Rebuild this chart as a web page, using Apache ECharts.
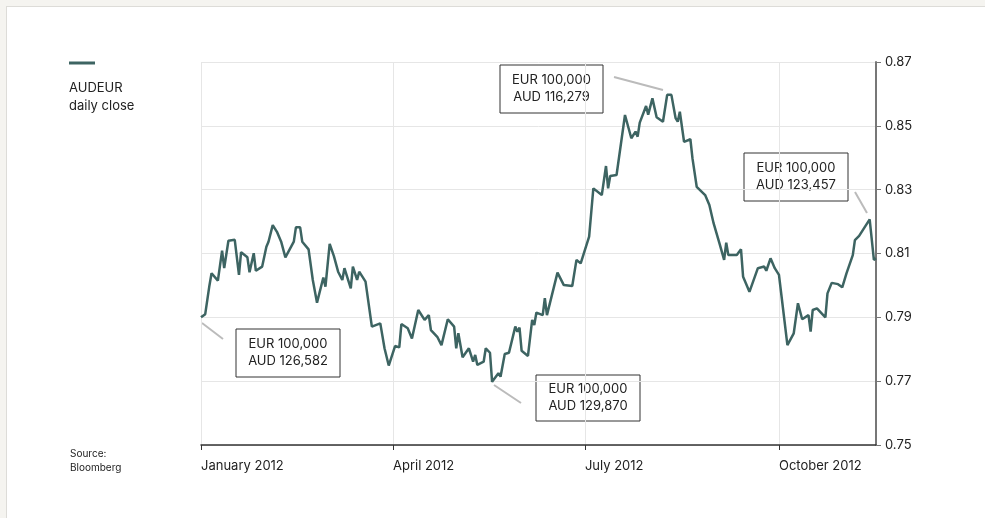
<!DOCTYPE html>
<html>
<head>
<meta charset="utf-8">
<script src="https://cdn.jsdelivr.net/npm/echarts@6/dist/echarts.min.js"></script>
<style>
  html, body { margin: 0; padding: 0; background: #f5f4f0; overflow: hidden; }
  .card { position: absolute; left: 6px; top: 6px; right: -10px; bottom: -10px; background: #fff; border: 1px solid #dddcd8; }
  #chart { position: absolute; left: 0; top: 0; width: 985px; height: 518px; }
</style>
</head>
<body>
<div class="card"></div>
<div id="chart"></div>
<script>
// AUDEUR daily close, 2012
const closeDates = [
  "2012-01-01", "2012-01-03", "2012-01-05", "2012-01-06", "2012-01-09", "2012-01-11", "2012-01-12", "2012-01-14",
  "2012-01-17", "2012-01-19", "2012-01-20", "2012-01-23", "2012-01-24", "2012-01-26", "2012-01-27", "2012-01-30",
  "2012-02-01", "2012-02-02", "2012-02-04", "2012-02-06", "2012-02-08", "2012-02-10", "2012-02-14", "2012-02-15",
  "2012-02-17", "2012-02-18", "2012-02-21", "2012-02-23", "2012-02-25", "2012-02-28", "2012-02-29", "2012-03-02",
  "2012-03-04", "2012-03-06", "2012-03-08", "2012-03-09", "2012-03-12", "2012-03-13", "2012-03-15", "2012-03-16",
  "2012-03-19", "2012-03-21", "2012-03-22", "2012-03-26", "2012-03-28", "2012-03-30", "2012-04-02", "2012-04-04",
  "2012-04-05", "2012-04-08", "2012-04-10", "2012-04-13", "2012-04-16", "2012-04-18", "2012-04-19", "2012-04-22",
  "2012-04-24", "2012-04-27", "2012-04-30", "2012-05-01", "2012-05-02", "2012-05-04", "2012-05-07", "2012-05-09",
  "2012-05-10", "2012-05-11", "2012-05-14", "2012-05-15", "2012-05-17", "2012-05-18", "2012-05-21", "2012-05-22",
  "2012-05-24", "2012-05-26", "2012-05-29", "2012-05-30", "2012-05-31", "2012-06-01", "2012-06-04", "2012-06-06",
  "2012-06-07", "2012-06-08", "2012-06-11", "2012-06-12", "2012-06-13", "2012-06-18", "2012-06-21", "2012-06-25",
  "2012-06-27", "2012-06-29", "2012-07-03", "2012-07-05", "2012-07-09", "2012-07-11", "2012-07-12", "2012-07-13",
  "2012-07-16", "2012-07-20", "2012-07-23", "2012-07-25", "2012-07-26", "2012-07-27", "2012-07-30", "2012-07-31",
  "2012-08-02", "2012-08-04", "2012-08-07", "2012-08-09", "2012-08-11", "2012-08-13", "2012-08-14", "2012-08-15",
  "2012-08-17", "2012-08-20", "2012-08-21", "2012-08-23", "2012-08-27", "2012-08-29", "2012-08-31", "2012-09-03",
  "2012-09-05", "2012-09-06", "2012-09-07", "2012-09-11", "2012-09-13", "2012-09-14", "2012-09-17", "2012-09-21",
  "2012-09-24", "2012-09-25", "2012-09-27", "2012-09-29", "2012-10-01", "2012-10-03", "2012-10-05", "2012-10-08",
  "2012-10-10", "2012-10-12", "2012-10-15", "2012-10-16", "2012-10-17", "2012-10-19", "2012-10-23", "2012-10-24",
  "2012-10-26", "2012-10-29", "2012-10-31", "2012-11-02", "2012-11-05", "2012-11-06", "2012-11-08", "2012-11-13",
  "2012-11-15", "2012-11-16"
];
const closeValues = [
  0.790, 0.791, 0.800, 0.8038, 0.8015, 0.8109, 0.8054, 0.8140,
  0.8143, 0.8033, 0.8104, 0.8088, 0.8041, 0.8101, 0.8046, 0.8059,
  0.8121, 0.8137, 0.8189, 0.8168, 0.8137, 0.8088, 0.8137, 0.8182,
  0.8182, 0.8137, 0.8113, 0.8017, 0.7946, 0.8025, 0.7996, 0.8130,
  0.8092, 0.8043, 0.8017, 0.8054, 0.7991, 0.8059, 0.8017, 0.8043,
  0.8012, 0.7918, 0.7871, 0.7881, 0.7803, 0.7749, 0.7810, 0.7806,
  0.7879, 0.7866, 0.7834, 0.7923, 0.7892, 0.7907, 0.7860, 0.7839,
  0.7813, 0.7894, 0.7871, 0.7803, 0.7850, 0.7775, 0.7803, 0.7761,
  0.7782, 0.7751, 0.7761, 0.7803, 0.7789, 0.7698, 0.7725, 0.7714,
  0.7785, 0.7789, 0.7871, 0.7855, 0.7868, 0.7795, 0.7779, 0.7892,
  0.7876, 0.7915, 0.7907, 0.7960, 0.7907, 0.8040, 0.8001, 0.7998,
  0.8080, 0.8069, 0.8153, 0.8304, 0.8283, 0.8374, 0.8304, 0.8343,
  0.8346, 0.8534, 0.8461, 0.8482, 0.8466, 0.8510, 0.8562, 0.8535,
  0.8586, 0.8527, 0.8513, 0.8597, 0.8597, 0.8524, 0.8513, 0.8544,
  0.8450, 0.8458, 0.8398, 0.8309, 0.8283, 0.8252, 0.8195, 0.8127,
  0.8080, 0.8134, 0.8095, 0.8095, 0.8113, 0.8027, 0.7980, 0.8054,
  0.8059, 0.8046, 0.8085, 0.8054, 0.8033, 0.7923, 0.7813, 0.7850,
  0.7944, 0.7894, 0.7907, 0.7855, 0.7923, 0.7928, 0.7900, 0.7975,
  0.8008, 0.8004, 0.7994, 0.8038, 0.8095, 0.8142, 0.8155, 0.8207,
  0.8080, 0.8085
];

const tickDates = ["2012-01-01", "2012-04-01", "2012-07-01", "2012-10-01"];
const tickLabels = ["January 2012", "April 2012", "July 2012", "October 2012"];

const noteTexts = [
  ["EUR 100,000", "AUD 126,582"],
  ["EUR 100,000", "AUD 129,870"],
  ["EUR 100,000", "AUD 116,279"],
  ["EUR 100,000", "AUD 123,457"]
];

const lineColor = "#3d6462";
const font = "Inter, 'Noto Sans', sans-serif";

let chartDom = document.getElementById("chart");
let chart = echarts.init(chartDom, null, { renderer: "canvas" });

const toTime = (d) => +echarts.time.parse(d);
const tickTimes = tickDates.map(toTime);

// box / callout layout (pixels)
const noteBoxes = [
  { x: 236, y: 329, w: 104, h: 48, line: [202, 323, 223, 339] },
  { x: 536, y: 375, w: 104, h: 46, line: [494, 385, 521, 403] },
  { x: 500, y: 65, w: 103, h: 48, line: [614, 77, 663, 90] },
  { x: 744, y: 153, w: 104, h: 48, line: [855, 192, 867, 213] }
];

let graphics = [
  { type: "line", shape: { x1: 69, y1: 63, x2: 95, y2: 63 }, style: { stroke: lineColor, lineWidth: 3 } },
  { type: "text", left: 69, top: 79, style: { text: "AUDEUR\ndaily close", font: "13px " + font, fill: "#222", lineHeight: 18 } },
  { type: "text", left: 70, top: 447, style: { text: "Source:\nBloomberg", font: "10px " + font, fill: "#222", lineHeight: 14 } }
];
noteBoxes.forEach((b, i) => {
  graphics.push({ type: "line", shape: { x1: b.line[0], y1: b.line[1], x2: b.line[2], y2: b.line[3] }, style: { stroke: "#bbbbbb", lineWidth: 2 } });
  graphics.push({ type: "rect", shape: { x: b.x, y: b.y, width: b.w, height: b.h }, style: { fill: "#fff", stroke: "#333", lineWidth: 1 } });
  graphics.push({
    type: "text",
    x: b.x + b.w / 2,
    y: b.y + b.h / 2,
    style: { text: noteTexts[i].join("\n"), font: "13px " + font, fill: "#222", align: "center", verticalAlign: "middle", lineHeight: 17 }
  });
});

let option = {
  animation: false,
  backgroundColor: "transparent",
  grid: { left: 201, right: 109, top: 62, bottom: 73 },
  xAxis: {
    type: "value",
    min: toTime("2012-01-01"),
    max: toTime("2012-11-16"),
    axisLine: { show: true, lineStyle: { color: "#333", width: 1.5 } },
    axisTick: { show: true, customValues: tickTimes, length: 5, lineStyle: { color: "#333" } },
    axisLabel: {
      customValues: tickTimes,
      align: "left",
      margin: 15,
      color: "#222",
      fontSize: 13,
      fontFamily: font,
      formatter: (v) => {
        const i = tickTimes.indexOf(+v);
        return i >= 0 ? tickLabels[i] : "";
      }
    },
    splitLine: { show: true, lineStyle: { color: "#e6e6e6", width: 1 } }
  },
  yAxis: {
    type: "value",
    position: "right",
    min: 0.75,
    max: 0.87,
    interval: 0.02,
    axisLine: { show: true, lineStyle: { color: "#777", width: 2 } },
    axisTick: { show: true, length: 5, lineStyle: { color: "#777" } },
    axisLabel: {
      margin: 9,
      color: "#222",
      fontSize: 13,
      fontFamily: font,
      formatter: (v) => v.toFixed(2)
    },
    splitLine: { show: true, lineStyle: { color: "#e6e6e6", width: 1 } }
  },
  series: [
    {
      name: "AUDEUR daily close",
      type: "line",
      showSymbol: false,
      data: closeDates.map((d, i) => [toTime(d), closeValues[i]]),
      lineStyle: { color: lineColor, width: 2.5 },
      itemStyle: { color: lineColor }
    }
  ],
  graphic: graphics
};

option && chart.setOption(option);
</script>
</body>
</html>
